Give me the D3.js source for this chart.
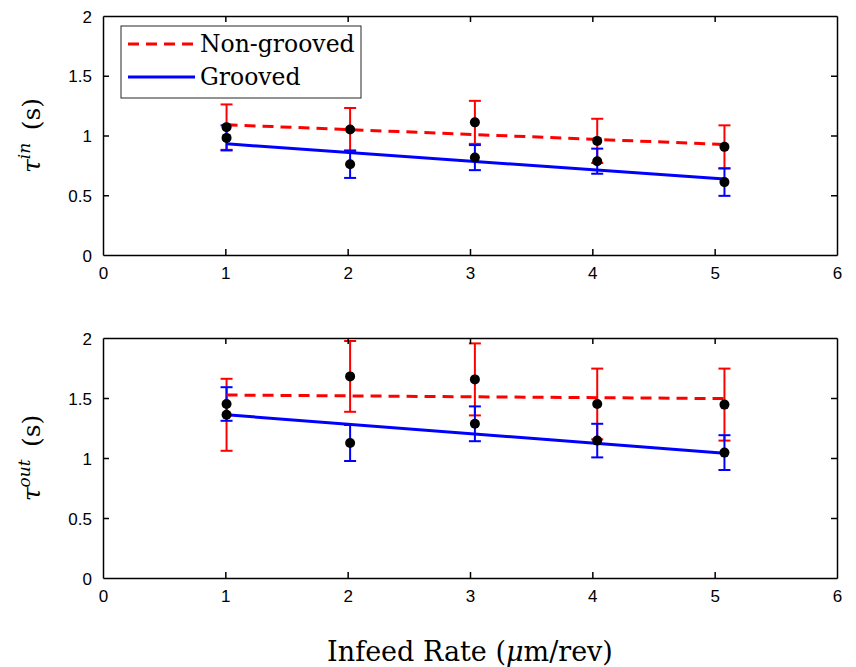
<!DOCTYPE html>
<html>
<head>
<meta charset="utf-8">
<script src="https://cdn.jsdelivr.net/npm/d3@7"></script>
<style>
  body { margin: 0; background: #fff; }
  svg { display: block; }
</style>
</head>
<body>
<svg id="chart" width="856" height="667"></svg>
<script>
// data
const infeed = [1.01, 2.02, 3.04, 4.04, 5.08]
const xTicks = [0, 1, 2, 3, 4, 5, 6]
const yTicks = [0, 0.5, 1, 1.5, 2]
const seriesNames = ["Non-grooved", "Grooved"]

// tau in
const tauInNonGrooved = [1.07, 1.05, 1.11, 0.955, 0.905]
const tauInNonGroovedErr = [0.19, 0.18, 0.18, 0.185, 0.18]
const tauInGrooved = [0.98, 0.76, 0.815, 0.785, 0.61]
const tauInGroovedErr = [0.105, 0.115, 0.105, 0.105, 0.115]
// tau out
const tauOutNonGrooved = [1.36, 1.68, 1.655, 1.45, 1.445]
const tauOutNonGroovedErr = [0.30, 0.295, 0.30, 0.295, 0.30]
const tauOutGrooved = [1.45, 1.125, 1.285, 1.145, 1.045]
const tauOutGroovedErr = [0.14, 0.15, 0.145, 0.14, 0.145]

// fitted lines, value at first and last infeed rate
const fitX = [1.01, 5.08]
const fitInNonGrooved = [1.09, 0.925]
const fitInGrooved = [0.93, 0.635]
const fitOutNonGrooved = [1.525, 1.495]
const fitOutGrooved = [1.36, 1.04]

const RED = "#ff0000"
const BLUE = "#0000ff"
const SERIF = "'DejaVu Serif', 'Liberation Serif', serif"

const svg = d3.select("#chart")
const left = 103, right = 837
const x = d3.scaleLinear().domain([0, 6]).range([left, right])

function drawPanel(top, bottom, ng, ngErr, gr, grErr, fitNG, fitG, sup, legend) {
    let y = d3.scaleLinear().domain([0, 2]).range([bottom, top])
    let g = svg.append("g")

    // error bars: red first, blue over it
    let bars = [
        {vals: ng, err: ngErr, color: RED},
        {vals: gr, err: grErr, color: BLUE}
    ]
    bars.forEach(b => {
        let eb = g.append("g").attr("stroke", b.color).attr("stroke-width", 2)
        b.vals.forEach((v, i) => {
            let cx = x(infeed[i])
            let lo = y(v - b.err[i]), hi = y(v + b.err[i])
            eb.append("line").attr("x1", cx).attr("x2", cx).attr("y1", lo).attr("y2", hi)
            eb.append("line").attr("x1", cx - 6).attr("x2", cx + 6).attr("y1", lo).attr("y2", lo)
            eb.append("line").attr("x1", cx - 6).attr("x2", cx + 6).attr("y1", hi).attr("y2", hi)
        })
    })

    // fit lines
    let line = d3.line().x((d, i) => x(fitX[i])).y(d => y(d))
    g.append("path").datum(fitNG).attr("d", line)
        .attr("fill", "none").attr("stroke", RED).attr("stroke-width", 3)
        .attr("stroke-dasharray", "11,7")
    g.append("path").datum(fitG).attr("d", line)
        .attr("fill", "none").attr("stroke", BLUE).attr("stroke-width", 3)

    // dots
    ng.concat(gr).forEach((v, i) => {
        g.append("circle").attr("cx", x(infeed[i % 5])).attr("cy", y(v))
            .attr("r", 5).attr("fill", "#000")
    })

    // axes box with ticks on all sides
    let fmt = d3.format("~g")
    let ax = svg.append("g")
    let xb = ax.append("g").attr("transform", "translate(0," + bottom + ")")
        .call(d3.axisBottom(x).tickValues(xTicks).tickFormat(fmt).tickSizeInner(-6).tickSizeOuter(0).tickPadding(12))
    let xt = ax.append("g").attr("transform", "translate(0," + top + ")")
        .call(d3.axisTop(x).tickValues(xTicks).tickSizeInner(-6).tickSizeOuter(0).tickFormat(""))
    let yl = ax.append("g").attr("transform", "translate(" + left + ",0)")
        .call(d3.axisLeft(y).tickValues(yTicks).tickFormat(fmt).tickSizeInner(-6).tickSizeOuter(0).tickPadding(11))
    let yr = ax.append("g").attr("transform", "translate(" + right + ",0)")
        .call(d3.axisRight(y).tickValues(yTicks).tickSizeInner(-6).tickSizeOuter(0).tickFormat(""))
    ax.selectAll("path.domain").attr("stroke", "#000").attr("stroke-width", 1.5)
    ax.selectAll(".tick line").attr("stroke", "#000").attr("stroke-width", 1.5)
    ax.selectAll(".tick text")
        .attr("fill", "#000")
        .style("font-family", "'Liberation Sans', Arial, sans-serif")
        .style("font-size", "17px")
    xt.selectAll(".tick").filter(d => d === 0 || d === 6).remove()
    xb.selectAll(".tick line").filter(d => d === 0 || d === 6).remove()
    yl.selectAll(".tick line").filter(d => d === 0 || d === 2).remove()
    yr.selectAll(".tick").filter(d => d === 0 || d === 2).remove()
    yl.selectAll(".tick text").attr("dy", "0.36em")

    // y label
    let lab = svg.append("text")
        .attr("transform", "translate(40," + (top + bottom) / 2 + ") rotate(-90)")
        .attr("text-anchor", "middle")
        .style("font-family", SERIF)
        .style("font-size", "25px")
        .attr("fill", "#000")
    lab.append("tspan").attr("font-style", "italic").text("τ")
    lab.append("tspan").attr("font-style", "italic").attr("font-size", "17px").attr("dy", -10).text(sup)
    lab.append("tspan").attr("dy", 10).text("\u2002(s)")

    if (legend) {
        let lg = svg.append("g")
        lg.append("rect").attr("x", 121).attr("y", 26).attr("width", 240).attr("height", 72)
            .attr("fill", "#fff").attr("stroke", "#262626").attr("stroke-width", 1)
        let rows = [
            {name: seriesNames[0], color: RED, dash: "11,7", cy: 44},
            {name: seriesNames[1], color: BLUE, dash: null, cy: 77}
        ]
        rows.forEach(r => {
            lg.append("line").attr("x1", 128).attr("x2", 195).attr("y1", r.cy).attr("y2", r.cy)
                .attr("stroke", r.color).attr("stroke-width", 3)
                .attr("stroke-dasharray", r.dash)
            lg.append("text").attr("x", 200).attr("y", r.cy + 8)
                .style("font-family", SERIF)
                .style("font-size", "23.5px")
                .attr("fill", "#000")
                .text(r.name)
        })
    }
}

drawPanel(16, 255, tauInNonGrooved, tauInNonGroovedErr, tauInGrooved, tauInGroovedErr,
    fitInNonGrooved, fitInGrooved, "in", true)
drawPanel(338, 578, tauOutNonGrooved, tauOutNonGroovedErr, tauOutGrooved, tauOutGroovedErr,
    fitOutNonGrooved, fitOutGrooved, "out", false)

// x label
let xl = svg.append("text")
    .attr("x", (left + right) / 2).attr("y", 661)
    .attr("text-anchor", "middle")
    .style("font-family", SERIF)
    .style("font-size", "27px")
    .attr("fill", "#000")
xl.append("tspan").text("Infeed Rate (")
xl.append("tspan").attr("font-style", "italic").text("μ")
xl.append("tspan").text("m/rev)")
</script>
</body>
</html>
